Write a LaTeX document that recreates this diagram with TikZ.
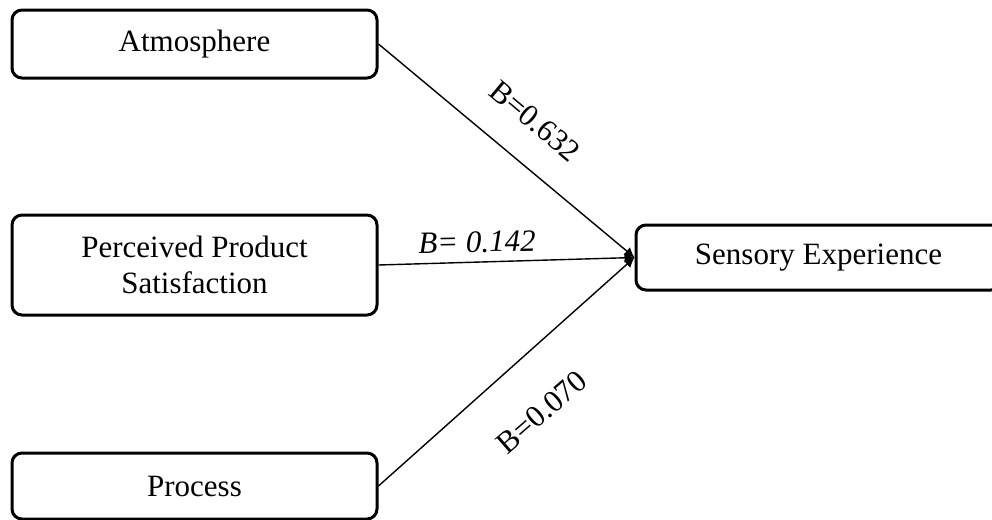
\documentclass[tikz,border=0pt]{standalone}
\usepackage{fontspec}
\setmainfont{Liberation Serif}
\usetikzlibrary{arrows.meta}
\begin{document}
\begin{tikzpicture}[x = 0.5pt, y = -0.5pt,
        factor/.style = {draw, line width = 1.5pt, rounded corners = 5pt,
            minimum width = 182.5pt, align = center,
            font = \fontsize{15.5}{18}\selectfont},
        path/.style = {line width = 0.7pt, -{Latex[length = 5pt, width = 5pt]}},
        weight/.style = {font = \fontsize{15.5}{17}\selectfont}]
    \useasboundingbox (0, 0) rectangle (992, 520);
    % Factors
    \node [factor, minimum height = 34pt] (atm) at (194.5, 44) {Atmosphere};
    \node [factor, minimum height = 50pt] (pps) at (194.5, 265) {Perceived Product\\Satisfaction};
    \node [factor, minimum height = 33pt] (proc) at (194.5, 486) {Process};
    % Outcome
    \node [factor, minimum height = 32.5pt] (sens) at (818.5, 257.5) {Sensory Experience};
    % Paths
    \draw [path] (atm.east) -- (sens.west);
    \draw [path] (pps.east) -- (sens.west);
    \draw [path] (proc.east) -- (sens.west);
    % Weights
    \node [weight, rotate = -40] (w1) at (535, 121) {B=0.632};
    \node [weight, rotate = 1] (w2) at (477, 242) {\itshape B= 0.142};
    \node [weight, rotate = 41] (w3) at (542, 412) {B=0.070};
\end{tikzpicture}
\end{document}
